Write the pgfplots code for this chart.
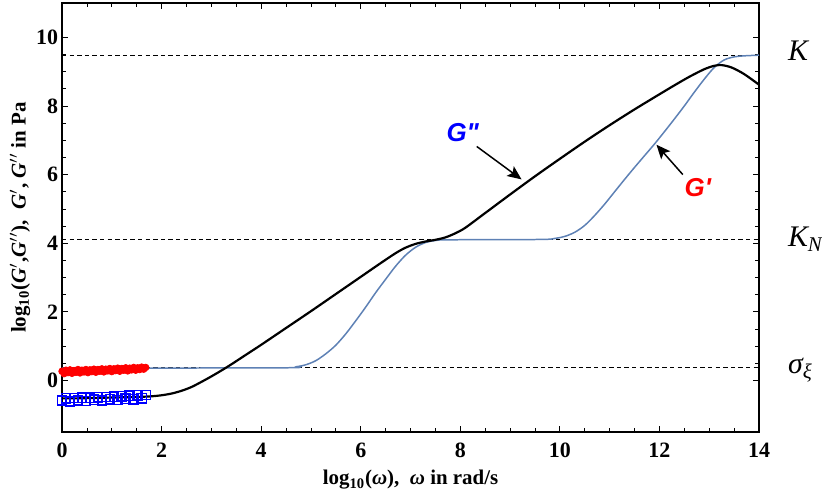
\documentclass[border=0pt]{standalone}
\usepackage{pgfplots}
\pgfplotsset{compat=1.18}
\usetikzlibrary{arrows.meta}
\usepackage{fontspec}
\setmainfont{Liberation Serif}
\newfontfamily\labelsans{Liberation Sans}

\newcommand\tickfont{\fontsize{11}{13}\selectfont\bfseries}
\newcommand\axisfont{\fontsize{10.5}{12.5}\selectfont\bfseries}

\definecolor{curveblue}{RGB}{94,129,181}

% low-frequency measurements
\pgfplotstableread{
x y
0.00 0.27
0.04 0.20
0.08 0.30
0.12 0.23
0.16 0.31
0.20 0.21
0.24 0.29
0.28 0.24
0.32 0.32
0.36 0.22
0.40 0.30
0.44 0.25
0.48 0.32
0.52 0.23
0.56 0.31
0.60 0.26
0.64 0.33
0.68 0.24
0.72 0.32
0.76 0.27
0.80 0.34
0.84 0.25
0.88 0.33
0.92 0.28
0.96 0.35
1.00 0.26
1.04 0.34
1.08 0.29
1.12 0.36
1.16 0.27
1.20 0.35
1.24 0.30
1.28 0.37
1.32 0.28
1.36 0.36
1.40 0.31
1.44 0.38
1.48 0.30
1.52 0.37
1.56 0.32
1.60 0.39
1.64 0.33
1.68 0.38
}\Gpdata

\pgfplotstableread{
x y
0.00 -0.58
0.08 -0.52
0.16 -0.61
0.24 -0.51
0.32 -0.58
0.40 -0.50
0.48 -0.60
0.56 -0.50
0.64 -0.56
0.72 -0.49
0.80 -0.58
0.88 -0.48
0.96 -0.55
1.04 -0.47
1.12 -0.57
1.20 -0.46
1.28 -0.53
1.36 -0.44
1.44 -0.55
1.52 -0.43
1.60 -0.52
1.68 -0.42
}\Gppdata

% model curves
\pgfplotstableread{
x y
0.0 -0.52
0.3 -0.52
0.6 -0.51
0.9 -0.50
1.2 -0.49
1.5 -0.48
1.8 -0.46
2.0 -0.43
2.2 -0.38
2.4 -0.30
2.6 -0.19
2.8 -0.04
3.0 0.12
3.2 0.29
3.4 0.47
3.6 0.66
3.8 0.85
4.0 1.04
4.5 1.53
5.0 2.02
5.5 2.52
6.0 3.02
6.4 3.42
6.7 3.71
6.9 3.87
7.1 3.98
7.3 4.05
7.5 4.10
7.7 4.17
7.9 4.29
8.1 4.45
8.5 4.88
9.0 5.42
9.5 5.95
10.0 6.46
10.5 6.96
11.0 7.44
11.5 7.90
12.0 8.34
12.3 8.60
12.6 8.85
12.9 9.07
13.1 9.17
13.25 9.19
13.45 9.12
13.7 8.93
14.0 8.62
}\Gppmodel

\pgfplotstableread{
x y
0.0 0.36
4.4 0.37
4.7 0.40
4.9 0.46
5.1 0.58
5.3 0.78
5.5 1.03
5.7 1.36
5.9 1.74
6.1 2.14
6.3 2.56
6.5 2.95
6.7 3.33
6.9 3.65
7.1 3.88
7.3 4.02
7.5 4.08
7.8 4.10
9.6 4.11
9.9 4.14
10.1 4.20
10.3 4.32
10.5 4.52
10.7 4.81
10.9 5.14
11.1 5.50
11.3 5.86
11.5 6.21
11.7 6.55
11.9 6.89
12.1 7.25
12.3 7.62
12.5 8.00
12.7 8.40
12.9 8.78
13.1 9.12
13.3 9.34
13.5 9.43
13.7 9.46
14.0 9.48
}\Gpmodel

\begin{document}
\begin{tikzpicture}
\begin{axis}[
  scale only axis,
  width=348.5bp, height=214.5bp,
  xmin=0, xmax=14, ymin=-1.5, ymax=11,
  xtick={0,2,...,14}, ytick={0,2,...,10},
  minor x tick num=3, minor y tick num=3,
  tick align=inside,
  major tick length=3bp, minor tick length=1.8bp,
  tick style={black, line width=0.4pt},
  axis line style={line width=0.6pt},
  /pgf/number format/assume math mode=true,
  xticklabel={\tickfont\pgfmathprintnumber{\tick}},
  yticklabel={\tickfont\pgfmathprintnumber{\tick}},
  xticklabel style={yshift=-2bp},
  yticklabel style={xshift=1.5bp},
  xlabel={\axisfont log\textsubscript{10}(\textit{ω}),~ \textit{ω} in rad/s},
  ylabel={\axisfont log\textsubscript{10}(\textit{G}$'$,\textit{G}$''$),~ \textit{G}$'$, \textit{G}$''$ in Pa},
  every axis x label/.style={at={(axis description cs:0.5,-0.112)}, anchor=center},
  every axis y label/.style={at={(axis description cs:-0.0603,0.5)}, anchor=center, rotate=90},
  clip=false,
]
% plateau levels
\addplot[black, line width=0.45pt, dash pattern=on 2.2bp off 1.6bp] coordinates {(0,9.48) (14,9.48)};
\addplot[black, line width=0.45pt, dash pattern=on 2.2bp off 1.6bp] coordinates {(0,4.12) (14,4.12)};
\addplot[black, line width=0.45pt, dash pattern=on 2.2bp off 1.6bp] coordinates {(0,0.38) (14,0.38)};

\addplot[only marks, mark=*, mark size=1.65bp, red, mark options={draw=red, fill=red}] table {\Gpdata};
\addplot[only marks, mark=square, mark size=2.3bp, blue, mark options={line width=0.7pt}] table {\Gppdata};

\addplot[curveblue, line width=0.75pt, smooth] table {\Gpmodel};
\addplot[black, line width=1.1pt, smooth] table {\Gppmodel};

% curve annotations
\node[font=\fontsize{13}{15}\selectfont\labelsans\bfseries\itshape, text=blue] at (axis cs:8.05,7.22) {G\textquotedbl};
\draw[-{Stealth[length=7bp,width=6bp,inset=1.5bp]}, line width=0.75pt] (axis cs:8.33,6.82) -- (axis cs:9.23,5.86);
\node[font=\fontsize{13}{15}\selectfont\labelsans\bfseries\itshape, text=red] at (axis cs:12.77,5.62) {G\textquotesingle};
\draw[-{Stealth[length=7bp,width=6bp,inset=1.5bp]}, line width=0.75pt] (axis cs:12.47,6.0) -- (axis cs:11.94,6.87);

% level labels
\node[anchor=west, font=\fontsize{15}{17}\selectfont\itshape] at (axis cs:14,9.6) [xshift=11bp] {K};
\node[anchor=west, font=\fontsize{15}{17}\selectfont\itshape] at (axis cs:14,4.12) [xshift=11bp] {K\textsubscript{N}};
\node[anchor=west, font=\fontsize{15}{17}\selectfont\itshape] at (axis cs:14,0.3) [xshift=11bp] {σ\textsubscript{ξ}};

\coordinate (bbA) at (rel axis cs:-0.089,-0.1515);
\coordinate (bbB) at (rel axis cs:1.0904,1.007);
\end{axis}
\pgfresetboundingbox
\path (bbA) rectangle (bbB);
\end{tikzpicture}
\end{document}
